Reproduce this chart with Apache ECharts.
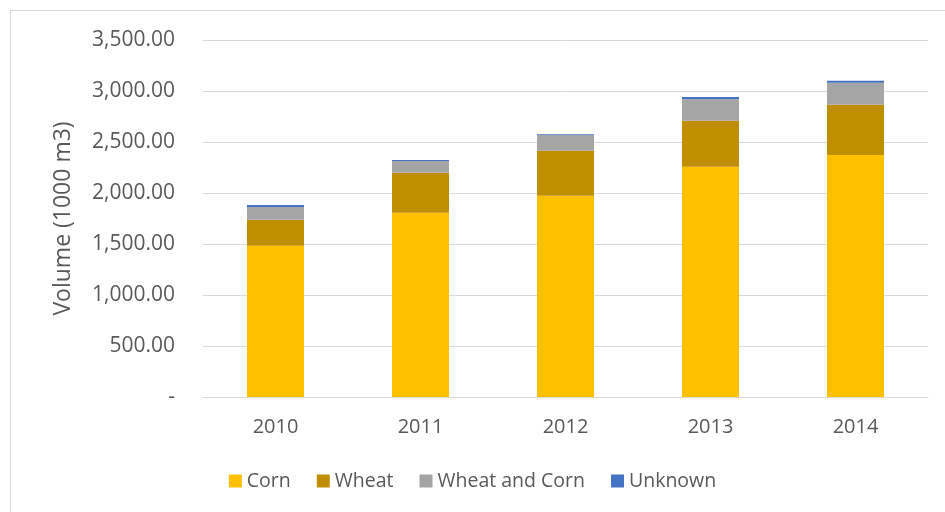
<!DOCTYPE html>
<html>
<head>
<meta charset="utf-8">
<script src="https://cdn.jsdelivr.net/npm/echarts@6/dist/echarts.min.js"></script>
<style>
  html, body { margin: 0; padding: 0; background: #fff; }
  #chart { width: 945px; height: 512px; }
</style>
</head>
<body>
<div id="chart"></div>
<script>
var years = ['2010', '2011', '2012', '2013', '2014'];
var corn = [1483, 1806, 1973, 2257, 2372];
var wheat = [255, 392, 441, 451, 493];
var wheatAndCorn = [124, 115, 154, 212, 215];
var unknown = [20, 10, 9, 20, 20];

var font = '"Open Sans", sans-serif';
var textColor = '#595959';

function fmt(v) {
  if (v === 0) return '-';
  return v.toLocaleString('en-US', { minimumFractionDigits: 2, maximumFractionDigits: 2 });
}

var chart = echarts.init(document.getElementById('chart'));

function bar(name, data, color) {
  return {
    name: name,
    type: 'bar',
    stack: 'total',
    data: data,
    barWidth: 57,
    itemStyle: { color: color },
    emphasis: { disabled: true }
  };
}

chart.setOption({
  animation: false,
  textStyle: { fontFamily: font },
  graphic: [{
    type: 'rect',
    shape: { x: 10.5, y: 10.5, width: 960, height: 520 },
    style: { fill: 'none', stroke: '#d9d9d9', lineWidth: 1 },
    silent: true
  }],
  grid: { left: 203, right: 17, top: 40, bottom: 115 },
  legend: {
    bottom: 16,
    left: 'center',
    itemWidth: 13,
    itemHeight: 13,
    itemGap: 26,
    icon: 'rect',
    textStyle: { color: textColor, fontSize: 19.5, fontFamily: font },
    data: ['Corn', 'Wheat', 'Wheat and Corn', 'Unknown']
  },
  xAxis: {
    type: 'category',
    data: years,
    axisLine: { lineStyle: { color: '#d9d9d9', width: 1 } },
    axisTick: { show: false },
    axisLabel: { color: textColor, fontSize: 20, margin: 20, fontFamily: font }
  },
  yAxis: {
    type: 'value',
    min: 0,
    max: 3500,
    interval: 500,
    name: 'Volume (1000 m3)',
    nameLocation: 'middle',
    nameGap: 128,
    nameTextStyle: { color: textColor, fontSize: 23, fontFamily: font },
    axisLine: { show: false },
    axisTick: { show: false },
    splitLine: { lineStyle: { color: '#d9d9d9', width: 1 } },
    axisLabel: { color: textColor, fontSize: 21, margin: 28, fontFamily: font, formatter: fmt }
  },
  series: [
    bar('Corn', corn, '#FFC000'),
    bar('Wheat', wheat, '#BF8F00'),
    bar('Wheat and Corn', wheatAndCorn, '#A5A5A5'),
    bar('Unknown', unknown, '#4472C4')
  ]
});
</script>
</body>
</html>
